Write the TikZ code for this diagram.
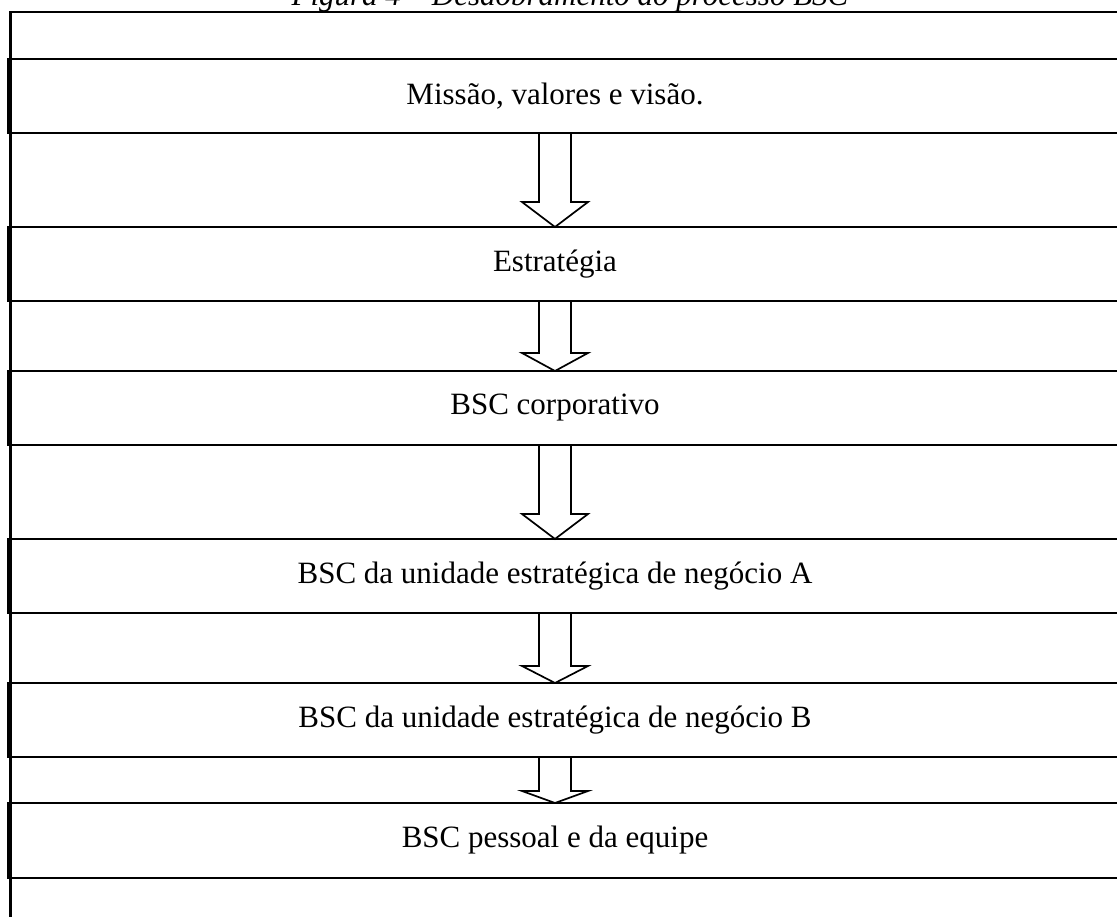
\documentclass[tikz,border=0pt]{standalone}
\usepackage{fontspec}
\setmainfont{Liberation Serif}
\usetikzlibrary{calc}

\begin{document}
\begin{tikzpicture}[x=1pt, y=-1pt,
level/.style={draw, line width=2.6pt, minimum width=1116pt, minimum height=74pt, inner sep=0pt, outer sep=0pt,
  font=\fontsize{31}{37}\selectfont, execute at begin node=\hspace*{-22pt}},
block arrow/.style={draw, fill=white, line width=1.7pt, line join=miter}]

%page size and outer frame
\useasboundingbox (0,0) rectangle (1117,917);

\coordinate (FB) at (10.5,930);
\coordinate (FC) at (10.5,12);
\coordinate (FR) at (1130,12);
\draw[line width=2.4pt] (FB) -- (FC) -- (FR);

\node[anchor=base, font=\itshape\fontsize{31}{37}\selectfont] (caption) at (570,6) {Figura 4 – Desdobramento do processo BSC};

%levels of the BSC
\node[level] (mvv)  at (566,96)  {Missão, valores e visão.};
\node[level] (estr) at (566,264) {Estratégia};
\node[level] (corp) at (566,408) {BSC corporativo};
\node[level] (unA)  at (566,576) {BSC da unidade estratégica de negócio A};
\node[level] (unB)  at (566,720) {BSC da unidade estratégica de negócio B};
\node[level, minimum height=75pt] (pess) at (566,840.5) {BSC pessoal e da equipe};

%hollow arrows between levels
\foreach \a/\b/\h in {mvv/estr/25, estr/corp/18, corp/unA/25, unA/unB/17, unB/pess/12}
  \draw[block arrow] ($(\a.south)+(-27,0)$) -- ($(\b.north)+(-27,-\h)$) -- ($(\b.north)+(-44,-\h)$)
    -- ($(\b.north)+(-11,0)$) -- ($(\b.north)+(22,-\h)$) -- ($(\b.north)+(5,-\h)$) -- ($(\a.south)+(5,0)$) -- cycle;

\end{tikzpicture}
\end{document}
